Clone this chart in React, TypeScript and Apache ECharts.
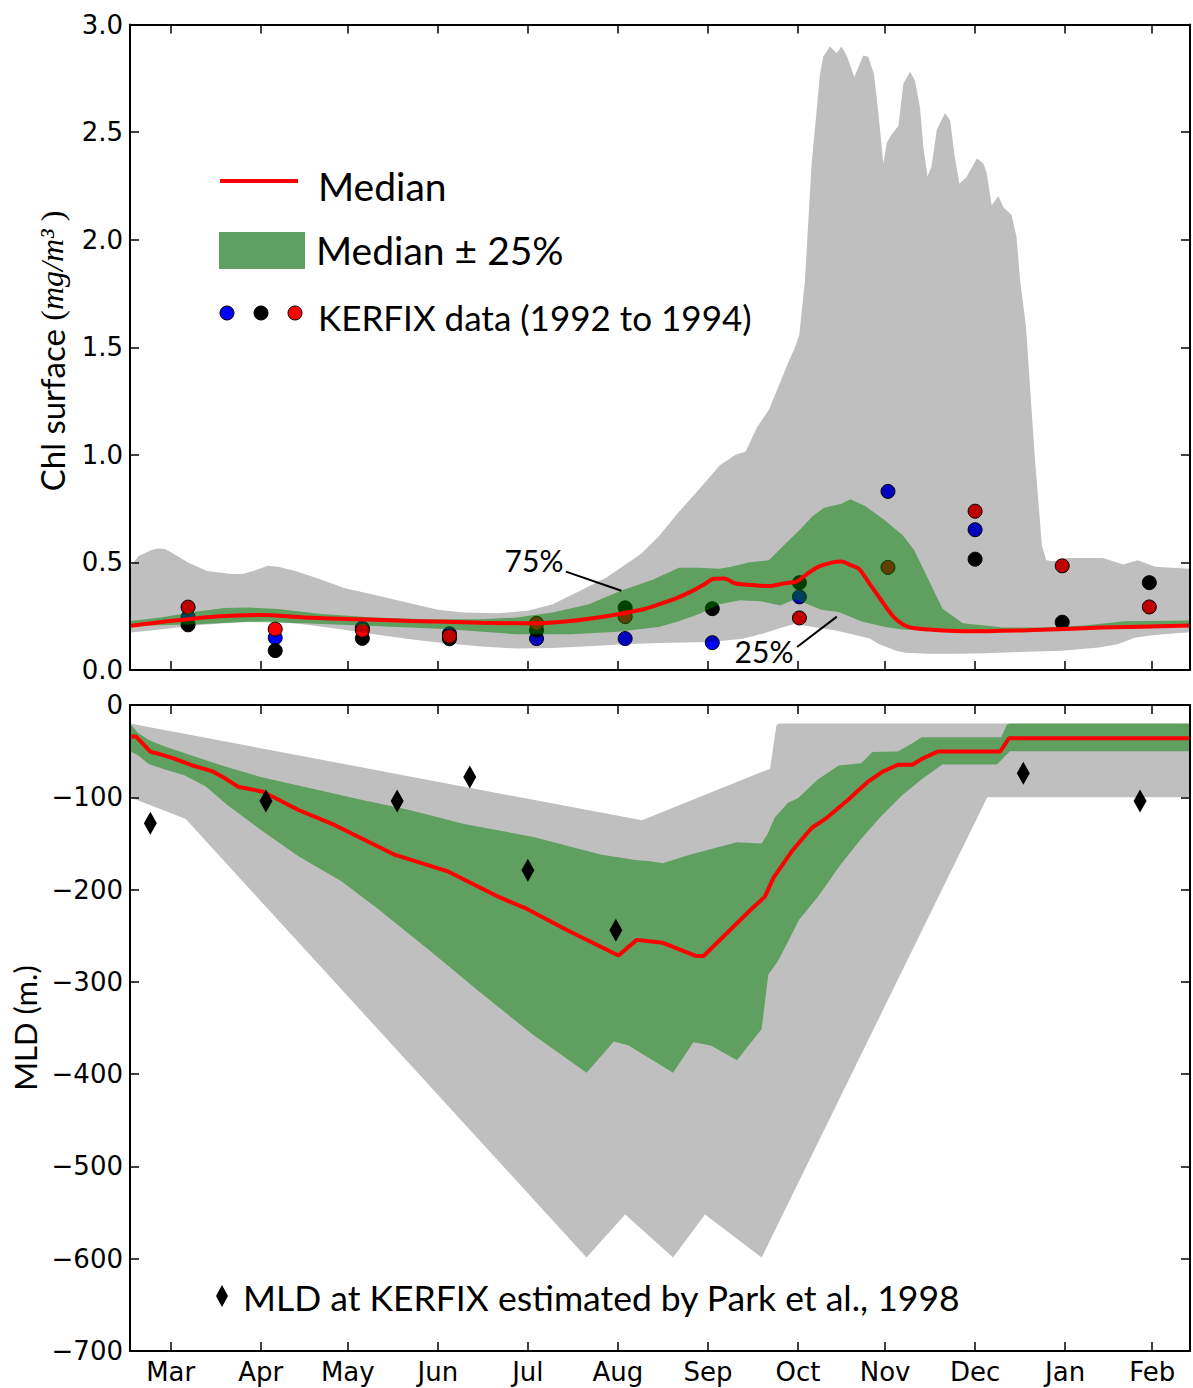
import React, { useEffect, useRef } from "react";
import * as echarts from "echarts";

// ---------- axis ticks (days since 1 March) ----------
const monthTickDays = [14, 45, 75, 106, 137, 168, 199, 230, 260, 291, 322, 352];
const monthLabels = ["Mar", "Apr", "May", "Jun", "Jul", "Aug", "Sep", "Oct", "Nov", "Dec", "Jan", "Feb"];

// ---------- top panel: surface Chl (mg/m3) ----------
const chlRangeTop: number[][] = [
  [0, 0.48], [3, 0.53], [7, 0.555], [9.5, 0.565], [12, 0.562], [14, 0.548], [20, 0.5], [26.5, 0.46],
  [35, 0.446], [39, 0.447], [42.5, 0.46], [47.5, 0.485], [51, 0.48], [57, 0.46], [66, 0.42], [74, 0.38],
  [84, 0.35], [96.5, 0.31], [106, 0.28], [115, 0.267], [127, 0.264], [137, 0.275], [145.5, 0.306],
  [155, 0.368], [164, 0.43], [170, 0.485], [176, 0.54], [182, 0.62], [189, 0.735], [196, 0.84],
  [203, 0.95], [208.5, 1.0], [212, 1.015], [216, 1.13], [220, 1.21], [227, 1.44], [229, 1.5],
  [230.5, 1.56], [232.4, 1.81], [234.7, 2.35], [237.6, 2.77], [238.7, 2.85], [241, 2.898], [243.3, 2.867],
  [245, 2.898], [246.8, 2.856], [249.4, 2.756], [252.5, 2.856], [254.2, 2.85], [256.2, 2.77], [257.7, 2.587],
  [259.4, 2.355], [260.6, 2.45], [262.3, 2.49], [264.6, 2.53], [266.3, 2.726], [268.6, 2.78], [270.3, 2.74],
  [272, 2.616], [273.2, 2.43], [274.6, 2.294], [276, 2.34], [277.8, 2.51], [280.6, 2.587], [282.4, 2.555],
  [284, 2.384], [285.6, 2.26], [288, 2.29], [291.6, 2.377], [293.8, 2.355], [295, 2.31], [296.7, 2.16],
  [299, 2.203], [300.7, 2.152], [303.6, 2.113], [305.3, 2.01], [306.5, 1.81], [308.5, 1.6], [311.5, 1.0],
  [314, 0.58], [315.5, 0.51], [318, 0.505], [322.6, 0.52], [335, 0.52], [342, 0.49], [347, 0.51],
  [353, 0.48], [365, 0.47],
];
const chlRangeBottom: number[][] = [
  [0, 0.174], [8, 0.185], [23, 0.208], [35, 0.22], [47, 0.228], [59.6, 0.213], [72, 0.19], [84, 0.166],
  [96.5, 0.143], [108.7, 0.124], [121, 0.109], [133, 0.1], [145.5, 0.102], [158, 0.11], [170, 0.12],
  [182, 0.125], [200, 0.13], [211, 0.145], [218, 0.17], [224, 0.195], [229, 0.215], [235, 0.2],
  [242.6, 0.185], [249, 0.165], [254.7, 0.146], [258, 0.12], [261, 0.105], [264, 0.088], [267, 0.08],
  [275, 0.075], [285, 0.075], [295, 0.078], [309, 0.085], [321, 0.09], [333.6, 0.105], [340, 0.12],
  [346, 0.15], [352, 0.162], [358, 0.168], [365, 0.175],
];
const chlQ75: number[][] = [
  [0, 0.228], [10.6, 0.244], [23, 0.272], [32.6, 0.288], [41, 0.29], [51, 0.283], [65.8, 0.26], [84, 0.244],
  [102.6, 0.236], [121, 0.236], [133, 0.244], [145.5, 0.267], [158, 0.306], [169, 0.368], [180, 0.42],
  [189, 0.475], [196, 0.475], [203, 0.47], [207, 0.48], [213, 0.5], [220, 0.51], [225, 0.578], [231, 0.656],
  [235, 0.715], [239, 0.754], [245, 0.773], [248, 0.793], [253, 0.763], [259, 0.705], [266, 0.627],
  [270, 0.558], [275.6, 0.402], [279.8, 0.285], [286.8, 0.217], [300.7, 0.197], [314.6, 0.197],
  [328.6, 0.207], [342.5, 0.227], [365, 0.23],
];
const chlQ25: number[][] = [
  [0, 0.205], [23, 0.213], [41, 0.224], [59.6, 0.217], [84, 0.205], [108.7, 0.19], [133, 0.166],
  [151.7, 0.166], [168, 0.178], [182, 0.2], [189, 0.227], [196, 0.26], [203, 0.305], [210, 0.324],
  [217, 0.32], [224, 0.3], [229, 0.33], [238, 0.28], [244, 0.27], [252, 0.225], [260, 0.2], [266, 0.188],
  [287, 0.178], [314.6, 0.188], [342, 0.197], [365, 0.207],
];
const chlMedian: number[][] = [
  [0, 0.205], [14, 0.228], [31, 0.25], [45, 0.256], [60, 0.244], [78, 0.236], [96.5, 0.228], [121, 0.22],
  [139, 0.217], [151.7, 0.228], [164, 0.25], [176, 0.28], [182, 0.305], [188, 0.333], [193, 0.363],
  [198, 0.4], [201, 0.424], [204.5, 0.425], [208.6, 0.402], [214, 0.395], [220, 0.39], [225, 0.402],
  [229.6, 0.412], [232, 0.435], [236.6, 0.477], [242, 0.5], [245, 0.504], [247.7, 0.49], [251, 0.47],
  [254.7, 0.4], [258.4, 0.33], [263, 0.246], [268, 0.2], [275, 0.188], [287, 0.18], [309, 0.185],
  [335, 0.197], [365, 0.207],
];
// KERFIX observations, one array per year
const kerfix1992: number[][] = [
  [20, 0.245], [50, 0.15], [80, 0.195], [110, 0.168], [140, 0.146], [170.5, 0.146], [200.5, 0.127],
  [230.5, 0.34], [261, 0.83], [291, 0.652],
];
const kerfix1993: number[][] = [
  [20, 0.21], [50, 0.09], [80, 0.147], [110, 0.145], [140, 0.185], [170.5, 0.289], [200.5, 0.285],
  [230.5, 0.406], [291, 0.515], [321, 0.222], [351, 0.406],
];
const kerfix1994: number[][] = [
  [20, 0.292], [50, 0.19], [80, 0.185], [110, 0.157], [140, 0.217], [170.5, 0.248], [230.5, 0.242],
  [261, 0.477], [291, 0.738], [321, 0.484], [351, 0.293],
];
const annot75: number[][] = [[150.1, 0.457], [169.2, 0.368]];
const annot25: number[][] = [[229.7, 0.107], [243.4, 0.248]];

// ---------- bottom panel: mixed layer depth (m) ----------
const mldRangeTop: number[][] = [
  [0, -20], [176.3, -125], [220.4, -69], [222.6, -22], [223.5, -20], [365, -20],
];
const mldRangeBottom: number[][] = [
  [0, -100], [19.2, -123.6], [157.2, -598.6], [170.5, -552], [187, -598.6], [198, -552], [217.5, -598.6],
  [295.2, -100], [365, -100],
];
const mldQ75: number[][] = [
  [0, -20], [2.7, -30], [6.4, -38], [12, -45], [21.5, -55], [33, -67], [45, -78], [61, -89.5], [80, -103],
  [96.6, -114], [115, -129], [138.9, -143], [162, -162], [174, -168], [178.5, -169], [183.5, -171.4],
  [193, -162], [209, -148.6], [217.5, -150], [219.5, -140], [222, -122], [226.6, -106], [230, -101],
  [236.7, -81], [244, -65.5], [251.8, -63], [255.6, -51], [264.4, -50.4], [269.4, -41.4], [272.6, -35],
  [300, -35], [302, -21], [303, -20], [365, -20],
];
const mldQ25: number[][] = [
  [0, -50], [3, -55], [6.4, -64], [12, -70], [18.7, -76], [26, -88], [33.4, -108], [45.8, -137], [58, -164],
  [72.8, -191], [85, -220], [103.6, -267], [120, -310], [138.9, -357.7], [148, -378], [157.2, -398.6],
  [166.6, -364.5], [171.7, -369], [187, -398.6], [194, -365.5], [200, -369], [209, -385], [217.5, -351],
  [219.8, -292], [223, -278], [225.7, -262], [230.4, -232.7], [237.4, -205.5], [244.5, -173.6],
  [251.5, -146], [258.5, -121], [265.6, -98.6], [272.6, -80.5], [279.7, -64.5], [298.5, -64.5], [303, -50],
  [365, -50],
];
const mldMedian: number[][] = [
  [0, -34], [2, -34], [7, -50.6], [10, -53], [15, -57.8], [21, -65], [28.5, -72], [33, -80], [37.2, -88.5],
  [45.8, -94], [58, -113.8], [70.4, -130], [91.3, -162.5], [109.7, -180.6], [127, -208], [136.7, -221],
  [150.6, -244], [168.2, -271.4], [174.5, -254.5], [178.8, -256], [183.5, -257.7], [195, -272],
  [197.5, -272], [214, -221], [218.6, -207.7], [221.6, -187], [228, -158], [234.8, -133], [239.2, -124],
  [246.8, -104], [254.3, -82.7], [259.3, -72], [264.4, -64.7], [269.4, -64.7], [273.2, -57.5],
  [278.2, -50.4], [299.6, -50.4], [302.7, -36], [365, -36],
];
const mldPark1998: number[][] = [
  [7, -128], [46.8, -104], [92, -104], [117, -78], [137, -179], [167.3, -244], [307.6, -74], [347.8, -104],
];

const LEGEND_FONT = "Lato, 'Open Sans', sans-serif";
const TICK_FONT = "'DejaVu Sans', sans-serif";

function band(top: number[][], bottom: number[][], fill: string, xi: number, yi: number, z: number) {
  return {
    type: "custom",
    xAxisIndex: xi,
    yAxisIndex: yi,
    z,
    silent: true,
    clip: true,
    data: [top[0]],
    encode: { x: 0, y: 1 },
    renderItem: (_params: any, api: any) => {
      const pts = top.map((p) => api.coord(p)).concat(bottom.slice().reverse().map((p) => api.coord(p)));
      return { type: "polygon", shape: { points: pts }, style: { fill } };
    },
  };
}

function dots(data: number[][], color: string) {
  return {
    type: "scatter",
    xAxisIndex: 0,
    yAxisIndex: 0,
    z: 1,
    silent: true,
    symbol: "circle",
    symbolSize: 14,
    itemStyle: { color, borderColor: "#000", borderWidth: 1, opacity: 1 },
    data,
  };
}

const axLine = { show: true, onZero: false, lineStyle: { color: "#000", width: 2 } };
const tick = (custom?: number[]) => ({
  show: true,
  inside: true,
  length: 9,
  lineStyle: { color: "#000", width: 1.5 },
  ...(custom ? { customValues: custom } : {}),
});

function xAx(grid: number, pos: string, labels: boolean) {
  return {
    type: "value",
    gridIndex: grid,
    position: pos,
    min: 0,
    max: 365,
    z: 10,
    axisLine: axLine,
    axisTick: tick(monthTickDays),
    splitLine: { show: false },
    axisLabel: labels
      ? {
          show: true,
          customValues: monthTickDays,
          formatter: (v: number) => {
            const i = monthTickDays.indexOf(v);
            return i >= 0 ? monthLabels[i] : "";
          },
          fontFamily: TICK_FONT,
          fontSize: 26,
          color: "#000",
          margin: 8,
        }
      : { show: false },
  };
}

function yAx(grid: number, pos: string, min: number, max: number, interval: number, labels: boolean, fmt?: (v: number) => string) {
  return {
    type: "value",
    gridIndex: grid,
    position: pos,
    min,
    max,
    interval,
    z: 10,
    axisLine: axLine,
    axisTick: tick(),
    splitLine: { show: false },
    axisLabel: labels
      ? { show: true, formatter: fmt, fontFamily: TICK_FONT, fontSize: 26, color: "#000", margin: 7 }
      : { show: false },
  };
}

export default function App() {
  const ref = useRef<HTMLDivElement>(null);
  useEffect(() => {
    document.body.style.margin = "0";
    const chart = echarts.init(ref.current!, undefined, { renderer: "svg" });
    const option: any = {
      animation: false,
      backgroundColor: "#fff",
      grid: [
        { left: 130, top: 24.5, width: 1060, height: 645.5 },
        { left: 130, top: 705, width: 1060, height: 646 },
      ],
      xAxis: [xAx(0, "bottom", false), xAx(0, "top", false), xAx(1, "bottom", true), xAx(1, "top", false)],
      yAxis: [
        yAx(0, "left", 0, 3, 0.5, true, (v) => v.toFixed(1)),
        yAx(0, "right", 0, 3, 0.5, false),
        yAx(1, "left", -700, 0, 100, true, (v) => String(v).replace("-", "\u2212")),
        yAx(1, "right", -700, 0, 100, false),
      ],
      series: [
        dots(kerfix1992, "#0000ff"),
        dots(kerfix1993, "#000000"),
        dots(kerfix1994, "#ff0000"),
        band(chlRangeTop, chlRangeBottom, "rgba(0,0,0,0.25)", 0, 0, 2),
        band(chlQ75, chlQ25, "rgba(0,128,0,0.5)", 0, 0, 3),
        {
          type: "line",
          xAxisIndex: 0,
          yAxisIndex: 0,
          z: 4,
          silent: true,
          showSymbol: false,
          smooth: 0.3,
          lineStyle: { color: "#ff0000", width: 4 },
          data: chlMedian,
          markLine: {
            silent: true,
            symbol: ["none", "none"],
            label: { show: false },
            lineStyle: { color: "#000", width: 2, type: "solid" },
            data: [
              [{ coord: annot75[0] }, { coord: annot75[1] }],
              [{ coord: annot25[0] }, { coord: annot25[1] }],
            ],
          },
        },
        band(mldRangeTop, mldRangeBottom, "rgba(0,0,0,0.25)", 2, 2, 2),
        band(mldQ75, mldQ25, "rgba(0,128,0,0.5)", 2, 2, 3),
        {
          type: "line",
          xAxisIndex: 2,
          yAxisIndex: 2,
          z: 4,
          silent: true,
          showSymbol: false,
          lineStyle: { color: "#ff0000", width: 4 },
          data: mldMedian,
        },
        {
          type: "scatter",
          xAxisIndex: 2,
          yAxisIndex: 2,
          z: 5,
          silent: true,
          symbol: "diamond",
          symbolSize: [13, 23],
          itemStyle: { color: "#000", opacity: 1 },
          data: mldPark1998,
        },
      ],
      graphic: [
        // legend, top panel
        { type: "line", shape: { x1: 220, y1: 181, x2: 298, y2: 181 }, style: { stroke: "#ff0000", lineWidth: 4 }, z: 20 },
        { type: "text", x: 318, y: 186, style: { text: "Median", font: `39px ${LEGEND_FONT}`, fill: "#000", textVerticalAlign: "middle" }, z: 20 },
        { type: "rect", shape: { x: 219, y: 232, width: 86, height: 37 }, style: { fill: "#5f9f62" }, z: 20 },
        { type: "text", x: 316, y: 250, style: { text: "Median \u00b1 25%", font: `39px ${LEGEND_FONT}`, fill: "#000", textVerticalAlign: "middle" }, z: 20 },
        { type: "circle", shape: { cx: 227, cy: 313, r: 7 }, style: { fill: "#0000ff", stroke: "#000", lineWidth: 1 }, z: 20 },
        { type: "circle", shape: { cx: 261, cy: 313, r: 7 }, style: { fill: "#000", stroke: "#000", lineWidth: 1 }, z: 20 },
        { type: "circle", shape: { cx: 295, cy: 313, r: 7 }, style: { fill: "#ff0000", stroke: "#000", lineWidth: 1 }, z: 20 },
        { type: "text", x: 318, y: 317, style: { text: "KERFIX data (1992 to 1994)", font: `35px ${LEGEND_FONT}`, fill: "#000", textVerticalAlign: "middle" }, z: 20 },
        // annotations
        { type: "text", x: 534, y: 560, style: { text: "75%", font: `30px ${LEGEND_FONT}`, fill: "#000", textAlign: "center", textVerticalAlign: "middle" }, z: 20 },
        { type: "text", x: 764, y: 651, style: { text: "25%", font: `30px ${LEGEND_FONT}`, fill: "#000", textAlign: "center", textVerticalAlign: "middle" }, z: 20 },
        // legend, bottom panel
        { type: "polygon", shape: { points: [[222, 1285], [228, 1296], [222, 1307], [216, 1296]] }, style: { fill: "#000" }, z: 20 },
        { type: "text", x: 243, y: 1297, style: { text: "MLD at KERFIX estimated by Park et al., 1998", font: `35.5px ${LEGEND_FONT}`, fill: "#000", textVerticalAlign: "middle" }, z: 20 },
        // y axis titles
        {
          type: "text",
          x: 52,
          y: 351,
          rotation: Math.PI / 2,
          style: {
            text: "{a|Chl surface }{b|(}{c|mg/m\u00b3}{b| )}",
            textAlign: "center",
            textVerticalAlign: "middle",
            fill: "#000",
            rich: {
              a: { fontFamily: LEGEND_FONT, fontSize: 33, fill: "#000" },
              b: { fontFamily: "'Liberation Serif', serif", fontSize: 32, fill: "#000" },
              c: { fontFamily: "'Liberation Serif', serif", fontStyle: "italic", fontSize: 32, fill: "#000" },
            },
          },
          z: 20,
        },
        {
          type: "text",
          x: 25,
          y: 1028,
          rotation: Math.PI / 2,
          style: { text: "MLD (m.)", font: `31px ${LEGEND_FONT}`, fill: "#000", textAlign: "center", textVerticalAlign: "middle" },
          z: 20,
        },
      ],
    };
    chart.setOption(option);
    return () => chart.dispose();
  }, []);
  return <div ref={ref} style={{ width: 1193, height: 1388 }} />;
}
